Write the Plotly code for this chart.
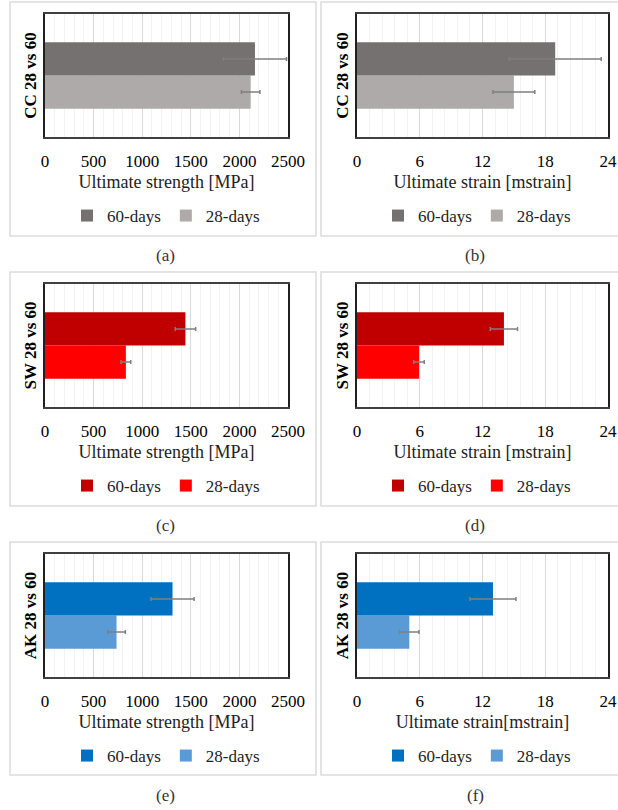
import plotly.graph_objects as go

# ---------------- data ----------------
categories = ["CC 28 vs 60", "SW 28 vs 60", "AK 28 vs 60"]
series_names = ["60-days", "28-days"]

strength_60 = [2160, 1445, 1312]
strength_60_err = [325, 105, 222]
strength_28 = [2116, 832, 736]
strength_28_err = [95, 50, 90]

strain_60 = [18.95, 14.05, 13.0]
strain_60_err = [4.4, 1.3, 2.2]
strain_28 = [15.0, 5.93, 5.0]
strain_28_err = [2.0, 0.5, 0.93]

strength_ticks = [0, 500, 1000, 1500, 2000, 2500]
strain_ticks = [0, 6, 12, 18, 24]

strength_titles = ["Ultimate strength [MPa]"] * 3
strain_titles = ["Ultimate strain [mstrain]", "Ultimate strain [mstrain]", "Ultimate strain[mstrain]"]
captions = [["(a)", "(b)"], ["(c)", "(d)"], ["(e)", "(f)"]]

colors_60 = ["#767171", "#C00000", "#0070C0"]
colors_28 = ["#AEAAAA", "#FF0000", "#5B9BD5"]

# ---------------- layout helpers ----------------
W, H = 618, 810
SERIF = "Liberation Serif"

def px_x(x):
    return x / W

def px_y(y):
    return 1 - y / H

fig = go.Figure()
layout = dict(
    width=W, height=H, autosize=False,
    margin=dict(l=0, r=0, t=0, b=0, autoexpand=False),
    paper_bgcolor="white", plot_bgcolor="white",
    barmode="group", bargap=0.46, bargroupgap=0,
    font=dict(family=SERIF, size=17, color="black"),
    showlegend=True,
)
shapes = []
annotations = []

col_x = [(45, 288), (357, 608)]
panel_box_x = [(10, 316), (321, 620)]
panel_box_y = [(2, 236), (272, 506), (542, 775)]
legend_cx = [166, 477]
caption_cx = [165, 475]

idx = 0
for r in range(3):
    for c in range(2):
        idx += 1
        xa = "x" if idx == 1 else f"x{idx}"
        ya = "y" if idx == 1 else f"y{idx}"
        xkey = "xaxis" if idx == 1 else f"xaxis{idx}"
        ykey = "yaxis" if idx == 1 else f"yaxis{idx}"
        lkey = "legend" if idx == 1 else f"legend{idx}"

        if c == 0:
            v60, e60, v28, e28 = strength_60[r], strength_60_err[r], strength_28[r], strength_28_err[r]
            ticks = strength_ticks
            minor = 100
            xtitle = strength_titles[r]
        else:
            v60, e60, v28, e28 = strain_60[r], strain_60_err[r], strain_28[r], strain_28_err[r]
            ticks = strain_ticks
            minor = 1.2
            xtitle = strain_titles[r]

        cat = categories[r]
        for name, val, err, color in [
            (series_names[1], v28, e28, colors_28[r]),
            (series_names[0], v60, e60, colors_60[r]),
        ]:
            fig.add_trace(go.Bar(
                x=[val], y=[cat], orientation="h", name=name,
                marker=dict(color=color, line=dict(width=0)),
                error_x=dict(type="data", array=[err], color="#7F7F7F", thickness=1.5, width=2),
                xaxis=xa, yaxis=ya, legend=lkey,
            ))

        top = 14 + 270 * r
        bot = 137 + 270 * r
        layout[xkey] = dict(
            domain=[px_x(col_x[c][0]), px_x(col_x[c][1])],
            anchor=ya, automargin=False,
            range=[ticks[0], ticks[-1]],
            tickvals=ticks,
            ticktext=[str(t) for t in ticks],
            showgrid=True, gridcolor="#D9D9D9", gridwidth=1,
            minor=dict(dtick=minor, tick0=0, showgrid=True, gridcolor="#F2F2F2", gridwidth=1),
            showline=True, linecolor="#404040", linewidth=1.5, mirror=True,
            ticks="", ticklabelstandoff=8,
            tickfont=dict(family=SERIF, size=17, color="black"),
            title=dict(text=xtitle, font=dict(family=SERIF, size=18, color="#222222"), standoff=5),
            zeroline=False, fixedrange=True,
        )
        layout[ykey] = dict(
            domain=[px_y(bot), px_y(top)],
            anchor=xa, automargin=False,
            type="category",
            showticklabels=False,
            showgrid=False,
            showline=True, linecolor="#202020", linewidth=1.5, mirror=True,
            title=dict(text=f"<b>{cat}</b>", font=dict(family=SERIF, size=17, color="black"), standoff=2),
            fixedrange=True,
        )
        layout[lkey] = dict(
            orientation="h",
            x=px_x(legend_cx[c]), xanchor="center",
            y=px_y(216 + 270 * r), yanchor="middle",
            traceorder="reversed",
            font=dict(family=SERIF, size=17, color="#222222"),
            itemwidth=30,
            bgcolor="rgba(0,0,0,0)",
        )

        # panel frame
        shapes.append(dict(
            type="rect", xref="paper", yref="paper",
            x0=px_x(panel_box_x[c][0]), x1=px_x(panel_box_x[c][1]),
            y0=px_y(panel_box_y[r][1]), y1=px_y(panel_box_y[r][0]),
            line=dict(color="#DCDCDC", width=1.5), fillcolor="rgba(0,0,0,0)", layer="below",
        ))
        # caption
        annotations.append(dict(
            text=captions[r][c], xref="paper", yref="paper",
            x=px_x(caption_cx[c]), y=px_y(255 + 270 * r),
            xanchor="center", yanchor="middle", showarrow=False,
            font=dict(family=SERIF, size=17, color="#333333"),
        ))

layout["shapes"] = shapes
layout["annotations"] = annotations
fig.update_layout(**layout)

post = (
    "document.documentElement.style.overflow='hidden';"
    "document.body.style.margin='0';document.body.style.padding='0';"
    "document.body.style.overflow='hidden';"
)
fig.write_html(
    "out.html",
    config={"displayModeBar": False, "responsive": False},
    post_script=post,
)
